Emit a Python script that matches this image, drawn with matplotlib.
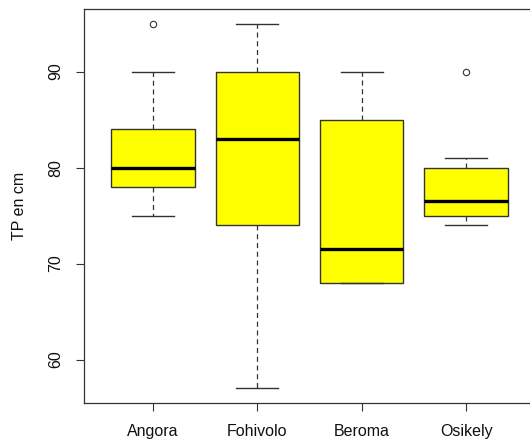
import matplotlib
matplotlib.use("Agg")
import matplotlib.pyplot as plt

# valeurs (TP en cm)
sites = ["Angora", "Fohivolo", "Beroma", "Osikely"]
whisker_low = [75, 57, 68, 74]
q1 = [78, 74, 68, 75]
median = [80, 83, 71.5, 76.5]
q3 = [84, 90, 85, 80]
whisker_high = [90, 95, 90, 81]
outliers = [[95], [], [], [90]]

plt.rcParams["font.family"] = ["Liberation Sans", "DejaVu Sans"]

fig = plt.figure(figsize=(5.3, 4.44), dpi=100)
ax = fig.add_axes([84 / 530, 41 / 444, 451 / 530, 394 / 444])

stats = []
for i, name in enumerate(sites):
    stats.append(dict(label=name, whislo=whisker_low[i], q1=q1[i], med=median[i],
                      q3=q3[i], whishi=whisker_high[i], fliers=outliers[i]))

edge = "#333333"
ax.bxp(stats, positions=range(1, len(sites) + 1), widths=0.8, patch_artist=True,
       showfliers=True,
       boxprops=dict(facecolor="#ffff00", edgecolor=edge, linewidth=1.0),
       medianprops=dict(color="black", linewidth=2.4, solid_capstyle="butt"),
       whiskerprops=dict(color=edge, linewidth=0.9, linestyle=(0, (4, 3))),
       capprops=dict(color=edge, linewidth=1.0),
       capwidths=0.4,
       flierprops=dict(marker="o", markersize=4.6, markerfacecolor="none",
                       markeredgecolor=edge, markeredgewidth=0.8))

ax.set_xlim(0.34, 4.66)
ax.set_ylim(55.48, 96.52)
ax.set_yticks([60, 70, 80, 90])
ax.set_yticklabels(["60", "70", "80", "90"], rotation=90, va="center")
ax.set_xticks(range(1, len(sites) + 1))
ax.set_xticklabels(sites)
ax.tick_params(axis="both", length=6, width=0.8, color=edge, labelsize=11.5, pad=9,
               labelcolor="#111111")
ax.set_ylabel("TP en cm", fontsize=11.5, labelpad=15, color="#111111")

for s in ax.spines.values():
    s.set_color(edge)
    s.set_linewidth(0.9)

fig.savefig("out.png", dpi=100)
